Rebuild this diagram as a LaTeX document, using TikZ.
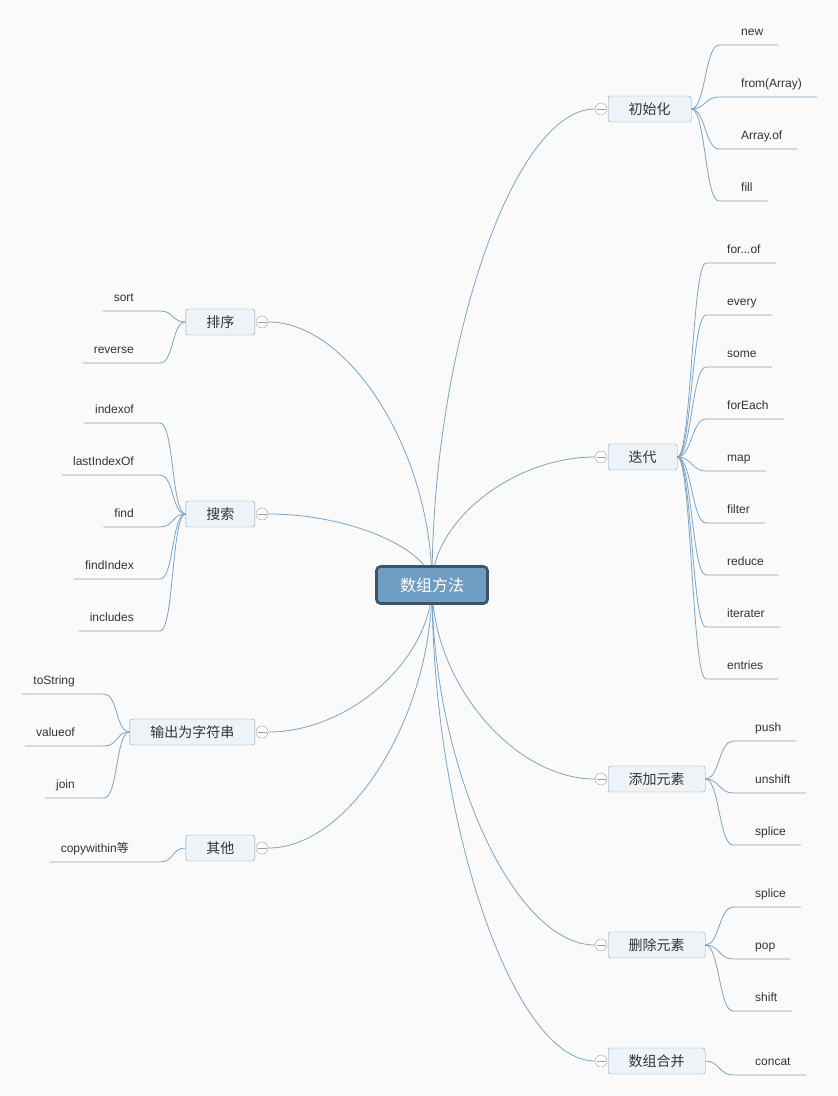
\documentclass[tikz,border=0pt]{standalone}
\usepackage{fontspec}
\setmainfont{Liberation Sans}
\newfontfamily\cjk{Noto Sans CJK SC}
\usetikzlibrary{positioning,backgrounds,calc}
\definecolor{linkblue}{HTML}{7BA4C6}
\definecolor{rootfill}{HTML}{6F9EC2}
\definecolor{rootborder}{HTML}{3C5468}
\definecolor{topicfill}{HTML}{EEF3F8}
\definecolor{pagebg}{HTML}{FAFAFA}
\definecolor{leaftext}{HTML}{333333}

\begin{document}
\begin{tikzpicture}[
    x=1pt, y=-1pt,
    root/.style={rectangle, rounded corners=4pt, draw=rootborder, line width=2.6pt, fill=rootfill, text=white, minimum width=111pt, minimum height=37pt, font=\cjk\fontsize{16}{18}\selectfont},
    topic/.style={rectangle, rounded corners=2.5pt, draw=linkblue, fill=topicfill, inner xsep=20.5pt, minimum height=26pt, text=leaftext, font=\cjk\fontsize{14}{16}\selectfont},
    fold/.style={circle, draw=gray!75, fill=white, inner sep=0pt, minimum size=12pt, path picture={\draw[gray!75] ([xshift=-4.5pt]path picture bounding box.center) -- ([xshift=4.5pt]path picture bounding box.center);}},
    leaf/.style={inner sep=0pt, text height=11pt, text depth=1pt, text=leaftext, font=\fontsize{12}{14}\selectfont},
    link/.style={draw=linkblue, line width=0.8pt}
]
\useasboundingbox (0,0) rectangle (838,1096);

% centre
\node[root] (root) at (432,585) {数组方法};

% right topics
\node[topic, anchor=west] (init) at (608,109) {初始化};
\node[topic, anchor=west] (iter) at (608,457) {迭代};
\node[topic, anchor=west] (add) at (608,779) {添加元素};
\node[topic, anchor=west] (del) at (608,945) {删除元素};
\node[topic, anchor=west] (merge) at (608,1061) {数组合并};
\node[fold] (initFold) at (601,109) {};
\node[fold] (iterFold) at (601,457) {};
\node[fold] (addFold) at (601,779) {};
\node[fold] (delFold) at (601,945) {};
\node[fold] (mergeFold) at (601,1061) {};

% left topics
\node[topic, anchor=east] (sorting) at (255,322) {排序};
\node[topic, anchor=east] (search) at (255,514) {搜索};
\node[topic, anchor=east] (toStr) at (255,732) {输出为字符串};
\node[topic, anchor=east] (other) at (255,848) {其他};
\node[fold] (sortFold) at (262,322) {};
\node[fold] (searchFold) at (262,514) {};
\node[fold] (toStrFold) at (262,732) {};
\node[fold] (otherFold) at (262,848) {};

\begin{scope}[on background layer]
\fill[pagebg] (0,0) rectangle (838,1096);
\draw[link] (root.center) .. controls ($(root.center)!0.5!(root.center |- initFold)$) and ($(initFold.west)!0.5!(root.center |- initFold)$) .. (initFold.west);
\draw[link] (root.center) .. controls ($(root.center)!0.5!(root.center |- iterFold)$) and ($(iterFold.west)!0.5!(root.center |- iterFold)$) .. (iterFold.west);
\draw[link] (root.center) .. controls ($(root.center)!0.5!(root.center |- addFold)$) and ($(addFold.west)!0.5!(root.center |- addFold)$) .. (addFold.west);
\draw[link] (root.center) .. controls ($(root.center)!0.5!(root.center |- delFold)$) and ($(delFold.west)!0.5!(root.center |- delFold)$) .. (delFold.west);
\draw[link] (root.center) .. controls ($(root.center)!0.5!(root.center |- mergeFold)$) and ($(mergeFold.west)!0.5!(root.center |- mergeFold)$) .. (mergeFold.west);
\draw[link] (root.center) .. controls ($(root.center)!0.5!(root.center |- sortFold)$) and ($(sortFold.east)!0.5!(root.center |- sortFold)$) .. (sortFold.east);
\draw[link] (root.center) .. controls ($(root.center)!0.5!(root.center |- searchFold)$) and ($(searchFold.east)!0.5!(root.center |- searchFold)$) .. (searchFold.east);
\draw[link] (root.center) .. controls ($(root.center)!0.5!(root.center |- toStrFold)$) and ($(toStrFold.east)!0.5!(root.center |- toStrFold)$) .. (toStrFold.east);
\draw[link] (root.center) .. controls ($(root.center)!0.5!(root.center |- otherFold)$) and ($(otherFold.east)!0.5!(root.center |- otherFold)$) .. (otherFold.east);
\end{scope}

% 初始化
\node[leaf, anchor=west] (new) at (741,30) {new};
\node[leaf, anchor=west] (fromArray) at (741,82) {from(Array)};
\node[leaf, anchor=west] (arrayOf) at (741,134) {Array.of};
\node[leaf, anchor=west] (fillLeaf) at (741,186) {fill};
\draw[link] (init.east) .. controls +(14,0) and +(-14,0) .. ([shift={(-22,15)}]new.west) -- ([shift={(15,15)}]new.east);
\draw[link] (init.east) .. controls +(14,0) and +(-14,0) .. ([shift={(-22,15)}]fromArray.west) -- ([shift={(15,15)}]fromArray.east);
\draw[link] (init.east) .. controls +(14,0) and +(-14,0) .. ([shift={(-22,15)}]arrayOf.west) -- ([shift={(15,15)}]arrayOf.east);
\draw[link] (init.east) .. controls +(14,0) and +(-14,0) .. ([shift={(-22,15)}]fillLeaf.west) -- ([shift={(15,15)}]fillLeaf.east);

% 迭代
\node[leaf, anchor=west] (forOf) at (727,248) {for...of};
\node[leaf, anchor=west] (every) at (727,300) {every};
\node[leaf, anchor=west] (some) at (727,352) {some};
\node[leaf, anchor=west] (forEach) at (727,404) {forEach};
\node[leaf, anchor=west] (map) at (727,456) {map};
\node[leaf, anchor=west] (filter) at (727,508) {filter};
\node[leaf, anchor=west] (reduce) at (727,560) {reduce};
\node[leaf, anchor=west] (iterater) at (727,612) {iterater};
\node[leaf, anchor=west] (entries) at (727,664) {entries};
\draw[link] (iter.east) .. controls +(14,0) and +(-14,0) .. ([shift={(-21,15)}]forOf.west) -- ([shift={(15,15)}]forOf.east);
\draw[link] (iter.east) .. controls +(14,0) and +(-14,0) .. ([shift={(-21,15)}]every.west) -- ([shift={(15,15)}]every.east);
\draw[link] (iter.east) .. controls +(14,0) and +(-14,0) .. ([shift={(-21,15)}]some.west) -- ([shift={(15,15)}]some.east);
\draw[link] (iter.east) .. controls +(14,0) and +(-14,0) .. ([shift={(-21,15)}]forEach.west) -- ([shift={(15,15)}]forEach.east);
\draw[link] (iter.east) .. controls +(14,0) and +(-14,0) .. ([shift={(-21,15)}]map.west) -- ([shift={(15,15)}]map.east);
\draw[link] (iter.east) .. controls +(14,0) and +(-14,0) .. ([shift={(-21,15)}]filter.west) -- ([shift={(15,15)}]filter.east);
\draw[link] (iter.east) .. controls +(14,0) and +(-14,0) .. ([shift={(-21,15)}]reduce.west) -- ([shift={(15,15)}]reduce.east);
\draw[link] (iter.east) .. controls +(14,0) and +(-14,0) .. ([shift={(-21,15)}]iterater.west) -- ([shift={(15,15)}]iterater.east);
\draw[link] (iter.east) .. controls +(14,0) and +(-14,0) .. ([shift={(-21,15)}]entries.west) -- ([shift={(15,15)}]entries.east);

% 添加元素
\node[leaf, anchor=west] (push) at (755,726) {push};
\node[leaf, anchor=west] (unshift) at (755,778) {unshift};
\node[leaf, anchor=west] (spliceAdd) at (755,830) {splice};
\draw[link] (add.east) .. controls +(14,0) and +(-14,0) .. ([shift={(-22,15)}]push.west) -- ([shift={(15,15)}]push.east);
\draw[link] (add.east) .. controls +(14,0) and +(-14,0) .. ([shift={(-22,15)}]unshift.west) -- ([shift={(15,15)}]unshift.east);
\draw[link] (add.east) .. controls +(14,0) and +(-14,0) .. ([shift={(-22,15)}]spliceAdd.west) -- ([shift={(15,15)}]spliceAdd.east);

% 删除元素
\node[leaf, anchor=west] (spliceDel) at (755,892) {splice};
\node[leaf, anchor=west] (pop) at (755,944) {pop};
\node[leaf, anchor=west] (shift) at (755,996) {shift};
\draw[link] (del.east) .. controls +(14,0) and +(-14,0) .. ([shift={(-22,15)}]spliceDel.west) -- ([shift={(15,15)}]spliceDel.east);
\draw[link] (del.east) .. controls +(14,0) and +(-14,0) .. ([shift={(-22,15)}]pop.west) -- ([shift={(15,15)}]pop.east);
\draw[link] (del.east) .. controls +(14,0) and +(-14,0) .. ([shift={(-22,15)}]shift.west) -- ([shift={(15,15)}]shift.east);

% 数组合并
\node[leaf, anchor=west] (concat) at (755,1060) {concat};
\draw[link] (merge.east) .. controls +(14,0) and +(-14,0) .. ([shift={(-22,15)}]concat.west) -- ([shift={(15,15)}]concat.east);

% 排序
\node[leaf, anchor=east] (sort) at (134,296) {sort};
\node[leaf, anchor=east] (reverse) at (134,348) {reverse};
\draw[link] ([shift={(-11,15)}]sort.west) -- ([shift={(26,15)}]sort.east) .. controls +(14,0) and +(-14,0) .. (sorting.west);
\draw[link] ([shift={(-11,15)}]reverse.west) -- ([shift={(26,15)}]reverse.east) .. controls +(14,0) and +(-14,0) .. (sorting.west);

% 搜索
\node[leaf, anchor=east] (indexOf) at (134,408) {indexof};
\node[leaf, anchor=east] (lastIndexOf) at (134,460) {lastIndexOf};
\node[leaf, anchor=east] (find) at (134,512) {find};
\node[leaf, anchor=east] (findIndex) at (134,564) {findIndex};
\node[leaf, anchor=east] (includes) at (134,616) {includes};
\draw[link] ([shift={(-11,15)}]indexOf.west) -- ([shift={(26,15)}]indexOf.east) .. controls +(14,0) and +(-14,0) .. (search.west);
\draw[link] ([shift={(-11,15)}]lastIndexOf.west) -- ([shift={(26,15)}]lastIndexOf.east) .. controls +(14,0) and +(-14,0) .. (search.west);
\draw[link] ([shift={(-11,15)}]find.west) -- ([shift={(26,15)}]find.east) .. controls +(14,0) and +(-14,0) .. (search.west);
\draw[link] ([shift={(-11,15)}]findIndex.west) -- ([shift={(26,15)}]findIndex.east) .. controls +(14,0) and +(-14,0) .. (search.west);
\draw[link] ([shift={(-11,15)}]includes.west) -- ([shift={(26,15)}]includes.east) .. controls +(14,0) and +(-14,0) .. (search.west);

% 输出为字符串
\node[leaf, anchor=east] (toString) at (75,679) {toString};
\node[leaf, anchor=east] (valueOf) at (75,731) {valueof};
\node[leaf, anchor=east] (join) at (75,783) {join};
\draw[link] ([shift={(-11,15)}]toString.west) -- ([shift={(29,15)}]toString.east) .. controls +(14,0) and +(-14,0) .. (toStr.west);
\draw[link] ([shift={(-11,15)}]valueOf.west) -- ([shift={(29,15)}]valueOf.east) .. controls +(14,0) and +(-14,0) .. (toStr.west);
\draw[link] ([shift={(-11,15)}]join.west) -- ([shift={(29,15)}]join.east) .. controls +(14,0) and +(-14,0) .. (toStr.west);

% 其他
\node[leaf, anchor=east] (copyWithin) at (129,847) {copywithin{\cjk 等}};
\draw[link] ([shift={(-11,15)}]copyWithin.west) -- ([shift={(31,15)}]copyWithin.east) .. controls +(14,0) and +(-14,0) .. (other.west);

\end{tikzpicture}
\end{document}
